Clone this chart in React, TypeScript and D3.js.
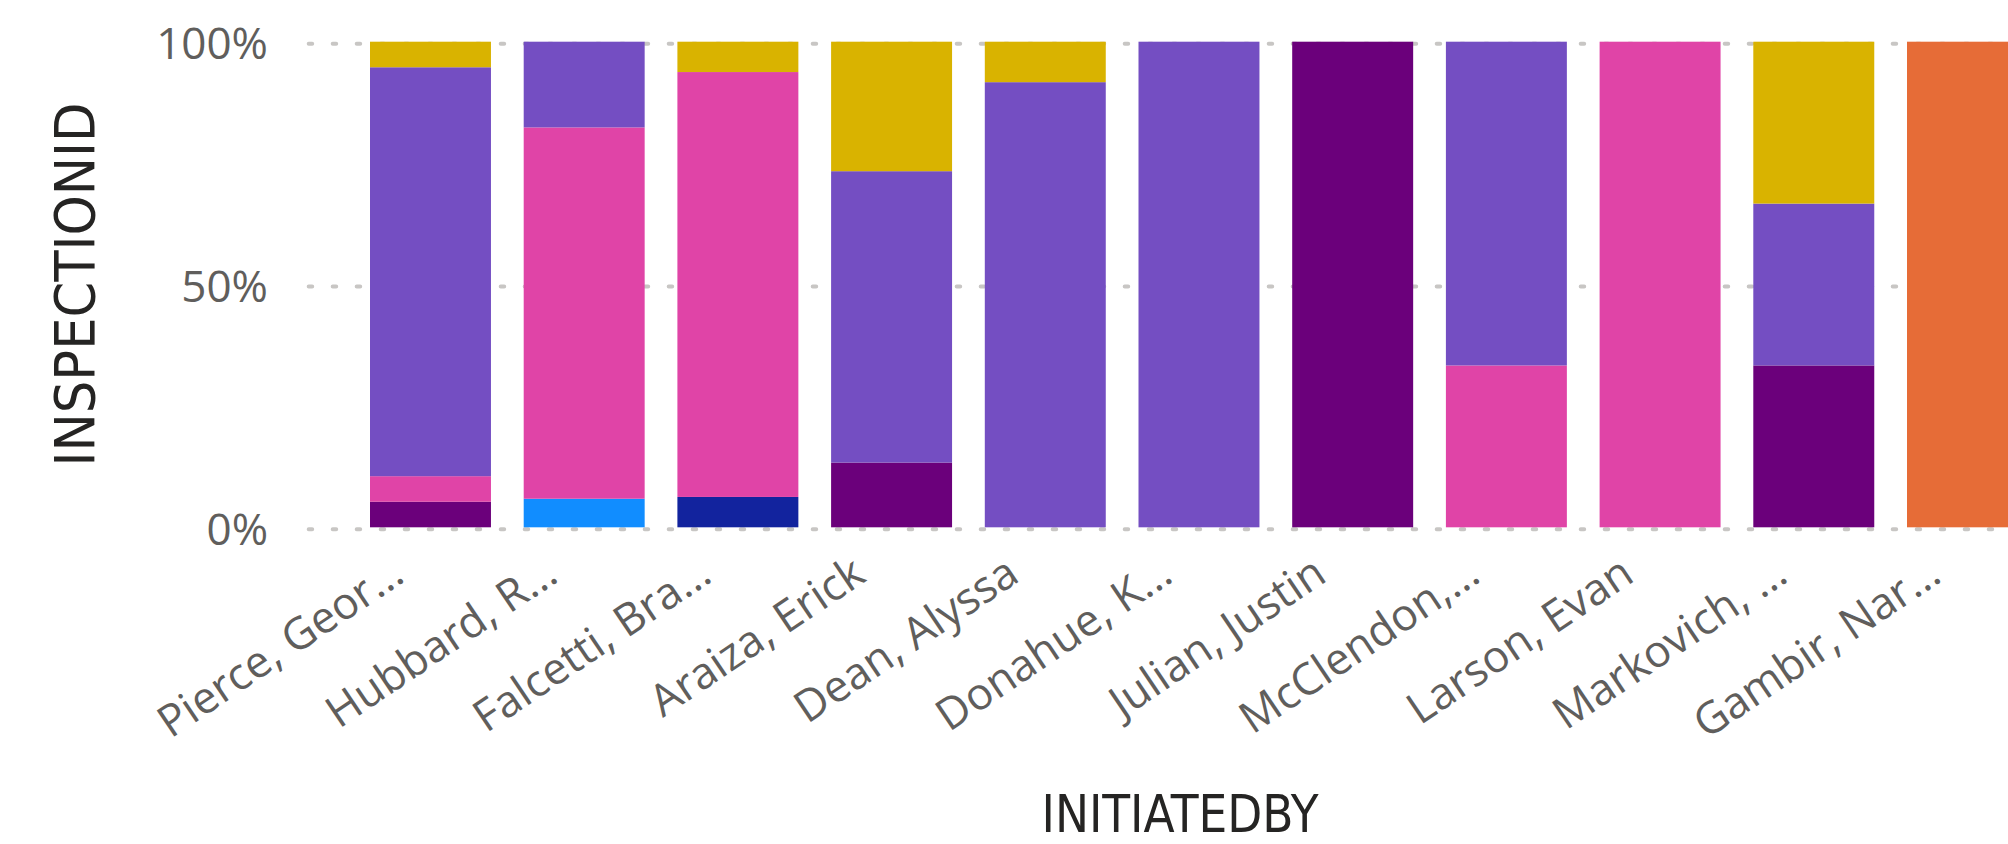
import React from "react";
import * as d3 from "d3";

const categories = [
  "Pierce, Geor…",
  "Hubbard, R…",
  "Falcetti, Bra…",
  "Araiza, Erick",
  "Dean, Alyssa",
  "Donahue, K…",
  "Julian, Justin",
  "McClendon,…",
  "Larson, Evan",
  "Markovich, …",
  "Gambir, Nar…",
];

// Counts per category (stacked bottom -> top in this order)
const seriesKeys = ["s1", "s2", "s3", "s4", "s5", "s6", "s7"];
const s1 = [0, 1, 0, 0, 0, 0, 0, 0, 0, 0, 0];
const s2 = [0, 0, 1, 0, 0, 0, 0, 0, 0, 0, 0];
const s3 = [0, 0, 0, 0, 0, 0, 0, 0, 0, 0, 1];
const s4 = [1, 0, 0, 2, 0, 0, 1, 0, 0, 1, 0];
const s5 = [1, 13, 14, 0, 0, 0, 0, 1, 1, 0, 0];
const s6 = [16, 3, 0, 9, 11, 1, 0, 2, 0, 1, 0];
const s7 = [1, 0, 1, 4, 1, 0, 0, 0, 0, 1, 0];
const seriesColors = ["#118DFF", "#12239E", "#E66C37", "#6B007B", "#E044A7", "#744EC2", "#D9B300"];

const yTicks = [0, 0.5, 1];
const yTickLabels = ["0%", "50%", "100%"];

const W = 2008;
const H = 844;

export default function App() {
  const seriesVals = [s1, s2, s3, s4, s5, s6, s7];
  const table = categories.map((c, i) => {
    const row: any = { cat: c };
    seriesKeys.forEach((k, j) => (row[k] = seriesVals[j][i]));
    return row;
  });
  const stacked = d3.stack().keys(seriesKeys).offset(d3.stackOffsetExpand)(table as any);

  const step = 153.7;
  const pInner = 0.213;
  const x = d3
    .scaleBand()
    .domain(categories)
    .range([370, 370 + step * (categories.length - pInner)])
    .paddingInner(pInner)
    .paddingOuter(0);
  const y = d3.scaleLinear().domain([0, 1]).range([527.3, 41.7]);

  const tickFont = "'Open Sans', 'Noto Sans', sans-serif";
  const titleFont = "'DejaVu Sans Condensed', 'Liberation Sans Narrow', 'DejaVu Sans', sans-serif";

  return (
    <svg
      width={W}
      height={H}
      style={{ position: "absolute", left: 0, top: 0, background: "#fff" }}
    >
      <rect x={0} y={0} width={W} height={H} fill="#fff" />
      {/* gridlines */}
      {yTicks.map((t) => (
        <line
          key={"g" + t}
          x1={308.7}
          x2={W}
          y1={y(t) + 2}
          y2={y(t) + 2}
          stroke="#C8C6C4"
          strokeWidth={4}
          strokeLinecap="round"
          strokeDasharray="3.5 20.5"
        />
      ))}
      {/* y tick labels */}
      {yTicks.map((t, i) => (
        <text
          key={"t" + t}
          x={268}
          y={y(t) + 2}
          dy="0.35em"
          textAnchor="end"
          fontFamily={tickFont}
          fontSize={44}
          fill="#605E5C"
        >
          {yTickLabels[i]}
        </text>
      ))}
      {/* bars */}
      {stacked.map((ser, si) => (
        <g key={ser.key} fill={seriesColors[si]}>
          {ser.map((d: any, i: number) => {
            const h = y(d[0]) - y(d[1]);
            if (!(h > 0)) return null;
            return (
              <rect
                key={i}
                x={x(categories[i])}
                y={y(d[1])}
                width={x.bandwidth()}
                height={h}
              />
            );
          })}
        </g>
      ))}
      {/* x tick labels */}
      {categories.map((c) => {
        const cx = (x(c) as number) + x.bandwidth() / 2;
        return (
          <text
            key={"x" + c}
            transform={`translate(${cx - 24},${580}) rotate(-34)`}
            textAnchor="end"
            fontFamily={tickFont}
            fontSize={44}
            fill="#605E5C"
          >
            {c}
          </text>
        );
      })}
      {/* axis titles */}
      <text
        transform={`translate(94,${(y(0) + y(1)) / 2}) rotate(-90)`}
        textAnchor="middle"
        fontFamily={titleFont}
        fontSize={56}
        fill="#252423"
        textLength={364}
        lengthAdjust="spacingAndGlyphs"
      >
        INSPECTIONID
      </text>
      <text
        x={1180}
        y={831.5}
        textAnchor="middle"
        fontFamily={titleFont}
        fontSize={52}
        fill="#252423"
        textLength={277}
        lengthAdjust="spacingAndGlyphs"
      >
        INITIATEDBY
      </text>
    </svg>
  );
}
